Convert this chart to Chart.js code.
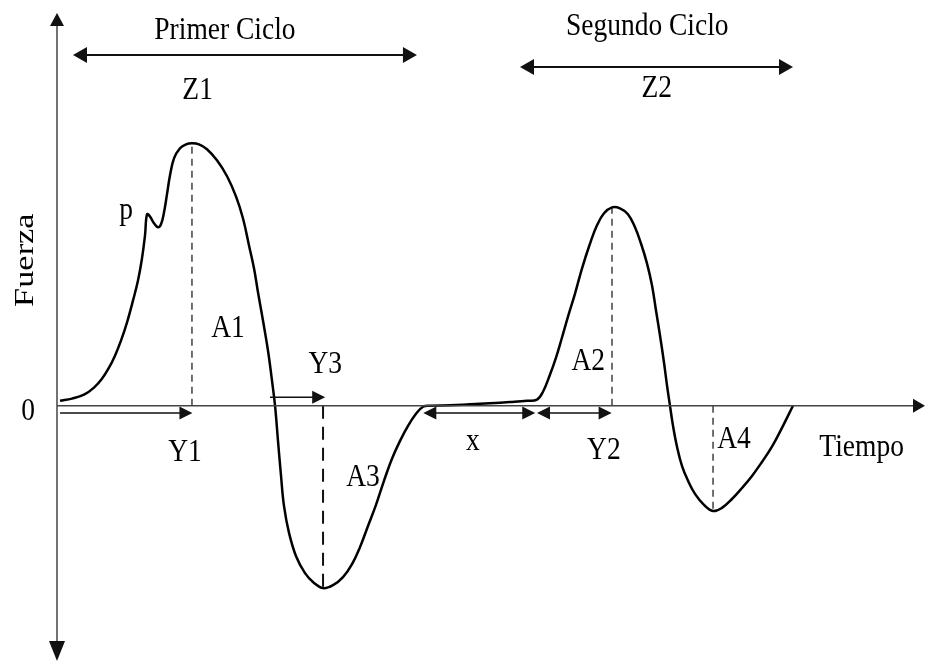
<!DOCTYPE html>
<html>
<head>
<meta charset="utf-8">
<script src="https://cdn.jsdelivr.net/npm/chart.js@4.4.1/dist/chart.umd.min.js"></script>
<style>
  html, body { margin: 0; padding: 0; background: #fff; }
  #wrap { width: 925px; height: 661px; }
</style>
</head>
<body>
<div id="wrap"><canvas id="tpa" width="925" height="661"></canvas></div>
<script>
// TPA curve (time and force in arbitrary units)
const time = [
    0.35, 1.73, 3.11, 4.26, 5.18, 5.99, 6.68, 7.37, 8.06, 8.76, 9.33, 9.79, 10.14, 10.37,
    10.71, 11.18, 11.64, 11.98, 12.33, 12.67, 13.02, 13.48, 14.17, 14.86, 15.55,
    16.36, 17.28, 18.43, 19.59, 20.62, 21.43, 22.12, 22.70, 23.16, 23.73, 24.31, 24.77,
    25.12, 25.46, 25.81, 26.15, 26.73, 27.53, 28.57, 29.61, 30.65, 31.80, 32.95, 33.99,
    34.91, 35.83, 36.75, 37.67, 38.59, 39.52, 40.44, 41.36, 42.17, 42.97,
    45.28, 47.58, 49.88, 52.19, 54.15, 55.30, 55.99, 56.80, 57.49, 58.18, 58.87, 59.68,
    60.48, 61.41, 62.21, 63.02, 63.94, 64.86, 65.78, 66.59, 67.28, 67.97, 68.55, 69.01,
    69.47, 69.93, 70.28, 70.62, 70.97, 71.43, 72.00, 72.70, 73.50, 74.54, 75.58, 76.61,
    77.76, 78.92, 80.07, 81.22, 82.37, 83.64, 84.79
];
const force = [
    2.0, 2.9, 4.5, 7.4, 11.0, 15.5, 20.4, 26.5, 33.9, 42.9, 51.0, 60.0, 69.4, 78.0,
    77.1, 74.3, 72.7, 73.9, 78.8, 86.1, 93.9, 100.8, 104.9, 106.5, 106.9,
    106.5, 104.5, 100.0, 93.5, 85.3, 76.3, 65.3, 55.9, 46.1, 34.7, 22.4, 10.2,
    0, -14.3, -28.6, -40.8, -51.8, -61.2, -68.2, -72.2, -74.3, -73.1, -69.8, -64.5,
    -57.6, -49.0, -40.4, -30.6, -21.6, -14.3, -8.2, -3.3, -0.4, 0,
    0.2, 0.6, 1.0, 1.5, 2.0, 2.5, 5.7, 12.7, 19.6, 27.8, 36.3, 45.7,
    55.9, 66.1, 73.5, 78.4, 80.8, 80.4, 78.0, 72.7, 66.1, 58.0, 49.0, 38.8,
    28.6, 17.6, 8.2, 0, -8.2, -16.7, -24.5, -30.6, -35.9, -40.4, -42.9, -41.6,
    -38.0, -33.5, -28.6, -22.9, -16.7, -8.2, 0
];

// peaks and troughs marked with a dashed drop line (A1, A3, A2, A4)
const markTimes = [15.55, 30.65, 63.94, 75.58];
const markForces = [106.9, -74.3, 80.8, -42.9];

const labels = [
    { text: 'Primer Ciclo', x: 19.35, y: 149.4 },
    { text: 'Z1', x: 16.2, y: 124.9 },
    { text: 'Segundo Ciclo', x: 68.0, y: 151.0 },
    { text: 'Z2', x: 69.1, y: 125.7 },
    { text: 'p', x: 7.95, y: 76.0 },
    { text: 'A1', x: 19.7, y: 28.2 },
    { text: 'Y3', x: 30.9, y: 13.3 },
    { text: 'Y1', x: 14.75, y: -22.4 },
    { text: 'A3', x: 35.25, y: -32.6 },
    { text: 'x', x: 47.9, y: -18.2 },
    { text: 'Y2', x: 63.0, y: -21.5 },
    { text: 'A2', x: 61.2, y: 14.5 },
    { text: 'A4', x: 78.0, y: -17.4 },
    { text: 'Tiempo', x: 92.7, y: -20.6 },
    { text: '0', x: -3.34, y: -5.9 },
];

const spans = [
    { from: 1.84, to: 41.47, y: 142.9, heads: 'both', big: true },
    { from: 53.34, to: 84.79, y: 138.0, heads: 'both', big: true },
    { from: 0.35, to: 15.6, y: -3.0, heads: 'end' },
    { from: 24.54, to: 30.9, y: 3.5, heads: 'end' },
    { from: 42.2, to: 55.1, y: -3.0, heads: 'both' },
    { from: 55.3, to: 63.9, y: -3.0, heads: 'both' },
];

const FONT = "27.5px 'Liberation Serif', 'Times New Roman', serif";

function head(ctx, tx, ty, dx, dy, len, half) {
    // dx, dy: unit direction the arrow points to
    ctx.beginPath();
    ctx.moveTo(tx, ty);
    ctx.lineTo(tx - dx * len - dy * half, ty - dy * len + dx * half);
    ctx.lineTo(tx - dx * len + dy * half, ty - dy * len - dx * half);
    ctx.closePath();
    ctx.fill();
}

const decorations = {
    id: 'decorations',
    afterDraw(chart) {
        const { ctx, scales: { x, y } } = chart;
        const px = v => x.getPixelForValue(v);
        const py = v => y.getPixelForValue(v);
        ctx.save();

        // axes
        ctx.strokeStyle = '#444';
        ctx.fillStyle = '#111';
        ctx.lineWidth = 1.5;
        ctx.beginPath();
        ctx.moveTo(px(0), py(y.max) + 8);
        ctx.lineTo(px(0), py(y.min) - 10);
        ctx.moveTo(px(0), py(0));
        ctx.lineTo(px(x.max) - 8, py(0));
        ctx.stroke();
        head(ctx, px(0), py(y.max), 0, -1, 13, 7);
        head(ctx, px(0), py(y.min), 0, 1, 20, 8);
        head(ctx, px(x.max), py(0), 1, 0, 12, 7);

        // dimension arrows
        ctx.strokeStyle = '#111';
        for (const s of spans) {
            const len = s.big ? 14 : 13;
            const half = s.big ? 8 : 6.5;
            const x1 = px(s.from), x2 = px(s.to), yy = py(s.y);
            ctx.lineWidth = s.big ? 2 : 1.5;
            ctx.beginPath();
            ctx.moveTo(s.heads === 'both' ? x1 + len - 2 : x1, yy);
            ctx.lineTo(x2 - len + 2, yy);
            ctx.stroke();
            head(ctx, x2, yy, 1, 0, len, half);
            if (s.heads === 'both') head(ctx, x1, yy, -1, 0, len, half);
        }

        // labels
        ctx.fillStyle = '#000';
        ctx.font = FONT;
        ctx.textAlign = 'center';
        ctx.textBaseline = 'alphabetic';
        for (const l of labels) {
            ctx.save();
            ctx.translate(px(l.x), py(l.y));
            ctx.scale(1, 1.12);
            ctx.fillText(l.text, 0, 0);
            ctx.restore();
        }
        ctx.save();
        ctx.translate(px(-2.76), py(59.3));
        ctx.rotate(-Math.PI / 2);
        ctx.scale(1.25, 0.97);
        ctx.fillText('Fuerza', 0, 0);
        ctx.restore();

        ctx.restore();
    }
};

const dropLines = markTimes.map((t, i) => ({
    data: [{ x: t, y: 0 }, { x: t, y: markForces[i] }],
    showLine: true,
    borderColor: '#111',
    borderWidth: i === 1 ? 2 : 1.2,
    borderDash: i === 1 ? [13, 8] : [7, 5],
    pointRadius: 0,
    tension: 0,
}));

new Chart(document.getElementById('tpa'), {
    type: 'scatter',
    data: {
        datasets: [{
            data: time.map((t, i) => ({ x: t, y: force[i] })),
            showLine: true,
            borderColor: '#000',
            borderWidth: 2.5,
            pointRadius: 0,
            tension: 0.4,
        }].concat(dropLines),
    },
    options: {
        responsive: false,
        animation: false,
        events: [],
        layout: { padding: { left: 57, right: 0, top: 13, bottom: 0 } },
        plugins: { legend: { display: false }, tooltip: { enabled: false } },
        scales: {
            x: { type: 'linear', min: 0, max: 100, display: false },
            y: { type: 'linear', min: -104, max: 160, display: false },
        },
    },
    plugins: [decorations],
});
</script>
</body>
</html>
